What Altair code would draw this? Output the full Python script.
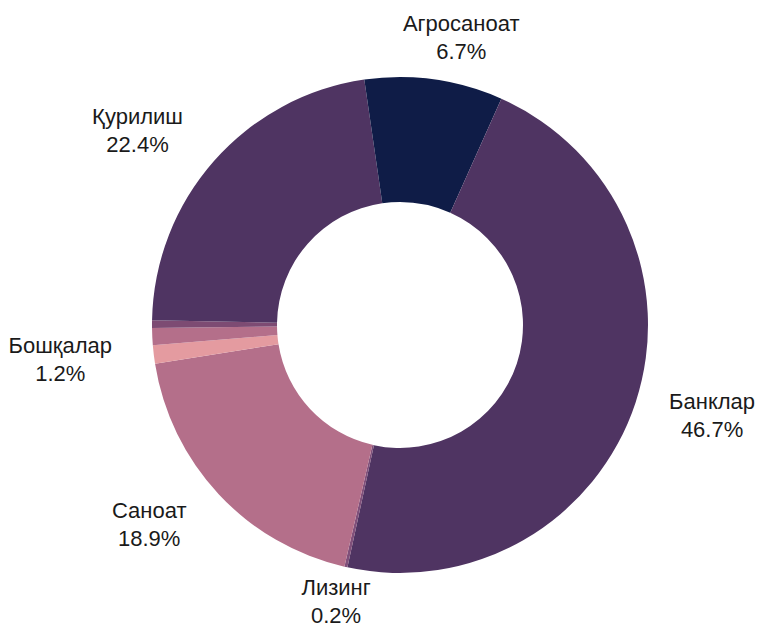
import altair as alt
import pandas as pd
import numpy as np

# Slices in clockwise order starting at 12 o'clock
keys = ["agro", "bank", "lease", "ind", "other", "s1", "s2", "constr", "s3"]
names = ["Агросаноат", "Банклар", "Лизинг", "Саноат", "Бошқалар", "", "", "Қурилиш", ""]
values = [6.7, 46.7, 0.2, 18.9, 1.2, 1.1, 0.5, 22.4, 2.3]
pct_labels = ["6.7%", "46.7%", "0.2%", "18.9%", "1.2%", "", "", "22.4%", ""]
colors = ["#0f1c47", "#4f3462", "#80507a", "#b46f8a", "#e49ba0",
          "#b46f8a", "#7d4b73", "#4f3462", "#0f1c47"]

vals = np.array(values)
mid = (np.cumsum(vals) - vals / 2) / vals.sum() * 2 * np.pi
s = np.sin(mid)
c = np.cos(mid)
side = np.where(s > 0.5, 1, np.where(s < -0.5, -1, 0))
bottom = np.where(c < -0.9, 1, 0)

df = pd.DataFrame({
    "idx": list(range(len(keys))),
    "key": keys,
    "name": names,
    "value": values,
    "label": [f"{n}\n{p}" if n else "" for n, p in zip(names, pct_labels)],
    "side": side,
    "bottom": bottom,
})

cx, cy = 392, 317

base = alt.Chart(df).encode(
    theta=alt.Theta("value:Q", stack=True),
    order=alt.Order("idx:Q", sort="ascending"),
    x=alt.value(cx),
    y=alt.value(cy),
)

arcs = base.mark_arc(outerRadius=248, innerRadius=123, stroke=None).encode(
    color=alt.Color("key:N", scale=alt.Scale(domain=keys, range=colors), legend=None),
)

texts = base.mark_text(
    radius=293,
    fontSize=22,
    font="Liberation Sans",
    lineBreak="\n",
    lineHeight=28,
    align="center",
    baseline="middle",
    color="#1a1a1a",
    dy=alt.ExprRef("-14 - 9 * datum.bottom"),
    dx=alt.ExprRef("datum.side * length(datum.name) * 6.1 - (datum.side > 0 ? 9 : 0)"),
).encode(text="label:N")

chart = alt.layer(arcs, texts).properties(
    width=749,
    height=619,
    autosize=alt.AutoSizeParams(type="none"),
    padding=0,
).configure_view(stroke=None)

chart.save("out.html", embed_options={"renderer": "svg", "actions": False})
